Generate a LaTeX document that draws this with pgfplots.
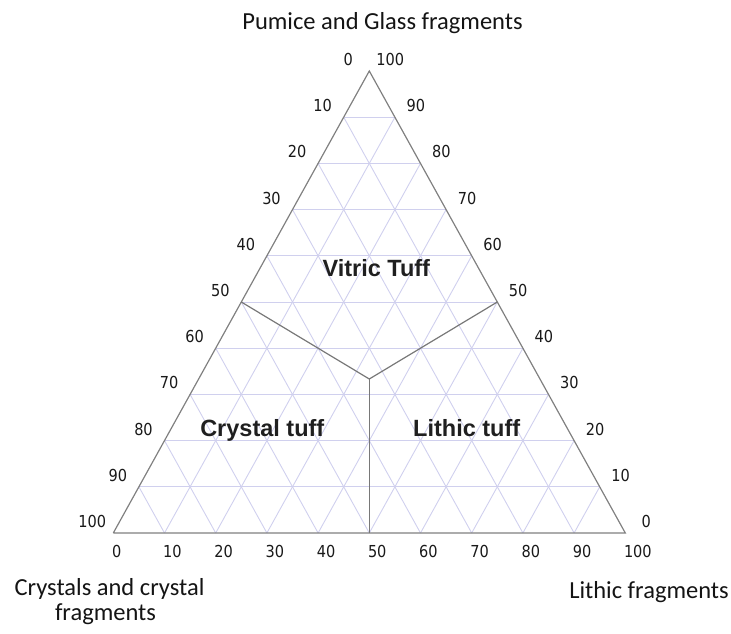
\documentclass[border=0pt]{standalone}
\usepackage{pgfplots}
\pgfplotsset{compat=1.18}
\usepackage{fontspec}
\setmainfont{Carlito}
\newfontfamily\tickfont[FakeStretch=0.88]{DejaVu Sans}
\newfontfamily\regfont{Liberation Sans}
\definecolor{gridc}{RGB}{208,208,238}
\definecolor{edgec}{RGB}{128,128,128}
\definecolor{bndc}{RGB}{120,120,120}
\begin{document}
\begin{tikzpicture}
\useasboundingbox (-113.3pt,-100pt) rectangle (617.7pt,533pt);
\begin{axis}[
  x=5.12pt, y=4.62pt,
  xmin=0, xmax=100, ymin=0, ymax=100,
  hide axis, clip=false,
  unbounded coords=jump,
]
% grid lines parallel to base (constant pumice)
\addplot[gridc, line width=0.9pt] coordinates {
 (5,10)(95,10) (nan,nan)
 (10,20)(90,20) (nan,nan)
 (15,30)(85,30) (nan,nan)
 (20,40)(80,40) (nan,nan)
 (25,50)(75,50) (nan,nan)
 (30,60)(70,60) (nan,nan)
 (35,70)(65,70) (nan,nan)
 (40,80)(60,80) (nan,nan)
 (45,90)(55,90)
};
% grid lines parallel to left side (constant lithic)
\addplot[gridc, line width=0.9pt] coordinates {
 (10,0)(55,90) (nan,nan)
 (20,0)(60,80) (nan,nan)
 (30,0)(65,70) (nan,nan)
 (40,0)(70,60) (nan,nan)
 (50,0)(75,50) (nan,nan)
 (60,0)(80,40) (nan,nan)
 (70,0)(85,30) (nan,nan)
 (80,0)(90,20) (nan,nan)
 (90,0)(95,10)
};
% grid lines parallel to right side (constant crystals)
\addplot[gridc, line width=0.9pt] coordinates {
 (90,0)(45,90) (nan,nan)
 (80,0)(40,80) (nan,nan)
 (70,0)(35,70) (nan,nan)
 (60,0)(30,60) (nan,nan)
 (50,0)(25,50) (nan,nan)
 (40,0)(20,40) (nan,nan)
 (30,0)(15,30) (nan,nan)
 (20,0)(10,20) (nan,nan)
 (10,0)(5,10)
};
% triangle outline
\addplot[edgec, line width=1.2pt] coordinates {(0,0)(100,0)(50,100)(0,0)};
% field boundaries
\addplot[bndc, line width=1.2pt] coordinates {(25,50)(50,33.333)(75,50)};
\addplot[bndc, line width=1.2pt] coordinates {(50,33.333)(50,0)};
\end{axis}
% tick labels
\begin{scope}[every node/.style={inner sep=0pt, font=\tickfont\fontsize{16.5}{18}\selectfont, text=black!90}]
\foreach \c in {0,10,...,100} {
  \node[anchor=center] at ({(100-\c)*2.56pt-21pt},{(100-\c)*4.62pt+11.5pt}) {\c};
  \node[anchor=center] at ({512.4pt-\c*2.56pt+20.5pt},{\c*4.62pt+11.5pt}) {\c};
  \node[anchor=west] at ({\c*5.12pt-1.5pt},-18pt) {\c};
}
\end{scope}
% field names
\begin{scope}[every node/.style={inner sep=0pt, anchor=base, font=\regfont\bfseries\fontsize{23.5}{26}\selectfont, text=black!88}]
\node at (263pt,256.3pt) {Vitric Tuff};
\node at (149pt,97pt) {Crystal tuff};
\node at (353.4pt,97pt) {Lithic tuff};
\end{scope}
% axis titles
\begin{scope}[every node/.style={inner sep=0pt, anchor=base, font=\fontsize{24.5}{27}\selectfont, text=black!92}]
\node at (269.2pt,503pt) {Pumice and Glass fragments};
\node at (535.7pt,-65.3pt) {Lithic fragments};
\node at (-3.8pt,-62pt) {Crystals and crystal};
\node at (-7.8pt,-87pt) {fragments};
\end{scope}
\end{tikzpicture}
\end{document}
